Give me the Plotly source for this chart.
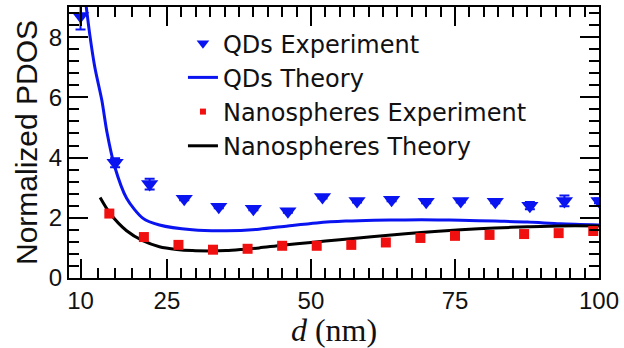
import plotly.graph_objects as go

# ---- data ----
qd_x = [10, 16, 22, 28, 34, 40, 46, 52, 58, 64, 70, 76, 82, 88, 94, 100]
qd_y = [8.70, 3.83, 3.12, 2.63, 2.37, 2.30, 2.22, 2.69, 2.56, 2.60, 2.53, 2.56, 2.53, 2.40, 2.56, 2.56]
qd_err = [0.45, 0.15, 0.18, 0.05, 0.05, 0.05, 0.05, 0.05, 0.05, 0.05, 0.05, 0.05, 0.05, 0.12, 0.18, 0.08]

ns_x = [15, 21, 27, 33, 39, 45, 51, 57, 63, 69, 75, 81, 87, 93, 99]
ns_y = [2.14, 1.36, 1.10, 0.94, 0.97, 1.07, 1.07, 1.10, 1.18, 1.33, 1.40, 1.43, 1.46, 1.49, 1.56]
ns_err = [0.05, 0.05, 0.05, 0.04, 0.04, 0.04, 0.04, 0.04, 0.04, 0.05, 0.08, 0.05, 0.05, 0.05, 0.05]

qdt_x = [10.6, 11.0, 11.6, 12.5, 13.7, 14.6, 15.9, 18.0, 20.8, 23.7, 29.4, 35.3, 41.0, 46.0, 51.0,
         56.0, 61.0, 66.4, 72.1, 76.0, 81.9, 87.6, 93.3, 100]
qdt_y = [9.6, 9.0, 8.09, 6.98, 5.90, 4.83, 3.72, 2.65, 1.99, 1.76, 1.60, 1.57, 1.62, 1.73, 1.83,
         1.89, 1.92, 1.93, 1.93, 1.92, 1.89, 1.86, 1.80, 1.76]

nst_x = [13.4, 15.1, 18.0, 20.8, 23.7, 26.7, 29.4, 32.4, 35.3, 38.1, 41.0, 45.0, 50.0, 55.0, 60.5,
         66.4, 72.1, 76.0, 81.9, 87.6, 93.3, 100]
nst_y = [2.67, 2.15, 1.57, 1.24, 1.04, 0.95, 0.91, 0.90, 0.91, 0.95, 1.00, 1.09, 1.18, 1.27, 1.37,
         1.47, 1.55, 1.60, 1.66, 1.70, 1.73, 1.73]

x_ticks = [10, 25, 50, 75, 100]
x_minor = [13, 16, 19, 22] + [25 + 2.5 * i for i in range(1, 30)]
y_ticks = [0, 2, 4, 6, 8]

BLUE = "#0a14f0"
RED = "#f01010"

fig = go.Figure()

fig.add_trace(go.Scatter(x=qdt_x, y=qdt_y, mode="lines",
                         line=dict(color=BLUE, width=3, shape="spline", smoothing=0.8),
                         showlegend=False))
fig.add_trace(go.Scatter(x=nst_x, y=nst_y, mode="lines",
                         line=dict(color="black", width=3, shape="spline", smoothing=0.8),
                         showlegend=False))
fig.add_trace(go.Scatter(x=qd_x, y=qd_y, mode="markers",
                         marker=dict(symbol="triangle-down", size=15, color=BLUE),
                         error_y=dict(type="data", array=qd_err, color=BLUE, thickness=2, width=5),
                         showlegend=False))
fig.add_trace(go.Scatter(x=ns_x, y=ns_y, mode="markers",
                         marker=dict(symbol="square", size=10, color=RED),
                         error_y=dict(type="data", array=ns_err, color=RED, thickness=2, width=4),
                         showlegend=False))

# legend entries
fig.add_trace(go.Scatter(x=[None], y=[None], mode="markers", name="QDs Experiment",
                         marker=dict(symbol="triangle-down", size=11, color=BLUE)))
fig.add_trace(go.Scatter(x=[None], y=[None], mode="lines", name="QDs Theory",
                         line=dict(color=BLUE, width=3)))
fig.add_trace(go.Scatter(x=[None], y=[None], mode="markers", name="Nanospheres Experiment",
                         marker=dict(symbol="square", size=6, color=RED)))
fig.add_trace(go.Scatter(x=[None], y=[None], mode="lines", name="Nanospheres Theory",
                         line=dict(color="black", width=3)))

axis_common = dict(
    showline=True, linecolor="black", linewidth=2, mirror="allticks",
    ticks="inside", ticklen=19, tickwidth=2, tickcolor="black",
    showgrid=False, zeroline=False,
    tickfont=dict(family="Liberation Sans, Arial, sans-serif", size=24, color="#111"),
)

fig.update_layout(
    width=624, height=348,
    margin=dict(l=69, r=22, t=5, b=67),
    paper_bgcolor="white", plot_bgcolor="white",
    showlegend=True,
    legend=dict(x=0.215, y=0.948, xanchor="left", yanchor="top",
                bgcolor="rgba(0,0,0,0)", borderwidth=0,
                font=dict(family="DejaVu Sans, Liberation Sans, sans-serif", size=24, color="#111"),
                tracegroupgap=0),
    xaxis=dict(range=[8, 100], tickmode="array", tickvals=x_ticks,
               minor=dict(tickmode="array", tickvals=x_minor, ticks="inside", ticklen=10,
                          tickwidth=2, tickcolor="black", showgrid=False),
               title=dict(text="<i>d</i> (nm)", standoff=7,
                          font=dict(family="Liberation Serif, Times New Roman, serif", size=32, color="#111")),
               **axis_common),
    yaxis=dict(range=[0, 9], tickmode="array", tickvals=y_ticks,
               minor=dict(tickmode="linear", tick0=0, dtick=0.4, ticks="inside", ticklen=10,
                          tickwidth=2, tickcolor="black", showgrid=False),
               title=dict(text="Normalized PDOS", standoff=2,
                          font=dict(family="Liberation Sans, Arial, sans-serif", size=30, color="#111")),
               **axis_common),
)

fig.write_html("out.html")
